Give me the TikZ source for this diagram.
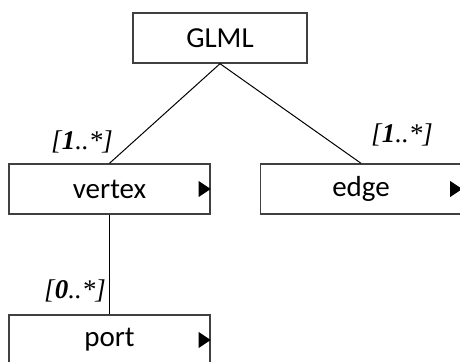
\documentclass[tikz,border=0pt]{standalone}
\usepackage{fontspec}
\setmainfont{Liberation Serif}
\newfontfamily\boxfont{Carlito}
\usetikzlibrary{positioning}

\tikzset{
  classbox/.style={draw=black!75, line width=0.7pt, minimum width=100.5pt, minimum height=25pt,
    inner sep=0pt, font=\boxfont\fontsize{14.5}{17}\selectfont},
  mult/.style={inner sep=0pt, font=\fontsize{13.5}{15}\selectfont\itshape},
  link/.style={draw=black, line width=0.5pt}
}

\begin{document}
\begin{tikzpicture}[x=0.5pt, y=-0.5pt]
  \useasboundingbox (0,0) rectangle (460,362);

  % boxes
  \node[classbox, minimum width=87pt] (glml) at (220,38) {GLML};
  \node[classbox] (vertex) at (109.5,189) {vertex};
  \node[classbox] (edge) at (361,189) {edge};
  \node[classbox] (port) at (109.5,340) {port};

  % expand marks
  \foreach \n in {vertex, edge, port}
    \fill (\n.east) ++(-12,-8) -- ++(12,8) -- ++(-12,8) -- cycle;

  % connectors
  \draw[link] (glml.south) -- (vertex.north);
  \draw[link] (glml.south) -- (edge.north);
  \draw[link] (vertex.south) -- (port.north);

  % multiplicities
  \node[mult] (m1) at (82,142) {[\textbf{1}..*]};
  \node[mult] (m2) at (402,135) {[\textbf{1}..*]};
  \node[mult] (m3) at (75,291) {[\textbf{0}..*]};
\end{tikzpicture}
\end{document}
